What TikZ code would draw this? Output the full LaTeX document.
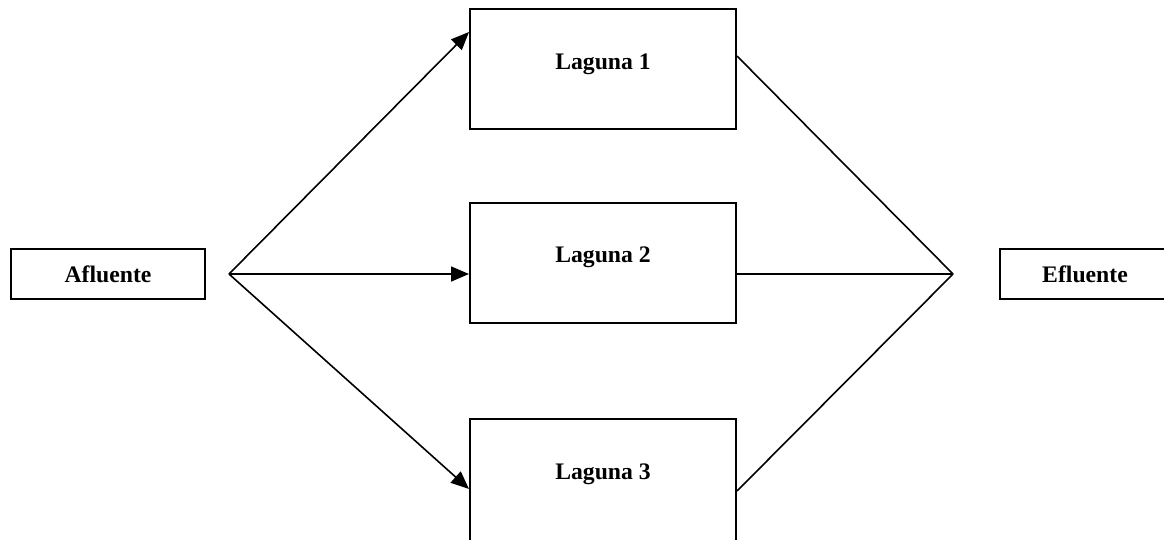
\documentclass[tikz,border=0pt]{standalone}
\usepackage{fontspec}
\setmainfont{Liberation Serif}
\usetikzlibrary{arrows.meta,calc}

\tikzset{
  basin/.style={draw, line width=2pt, rectangle, minimum width=266pt, minimum height=120pt, inner sep=0pt},
  endbox/.style={draw, line width=2pt, rectangle, minimum height=50pt, inner sep=0pt},
  lbl/.style={font=\fontsize{23.7}{28}\selectfont\bfseries, inner sep=0pt},
  flow/.style={line width=1.6pt},
  feed/.style={flow, -{Triangle[length=18pt,width=15pt]}}
}

\begin{document}
\begin{tikzpicture}[x=1pt,y=-1pt]
  \useasboundingbox (0,0) rectangle (1164,539);
  \clip (0,0) rectangle (1164,539);

  % inlet and outlet boxes
  \node[endbox, minimum width=194pt] (afl) at (108,274) {};
  \node[lbl] (aflt) at (afl.center) {Afluente};
  \node[endbox, minimum width=170pt] (efl) at (1085,274) {};
  \node[lbl] (eflt) at (efl.center) {Efluente};

  % the three ponds in parallel (the lowest runs off the page)
  \node[basin] (l1) at (603,69) {};
  \node[basin] (l2) at (603,262.5) {};
  \node[basin, minimum height=140pt] (l3) at (603,489) {};
  \node[lbl, anchor=base] (l1t) at ($(l1.north)+(0,61)$) {Laguna 1};
  \node[lbl, anchor=base] (l2t) at ($(l2.north)+(0,61)$) {Laguna 2};
  \node[lbl, anchor=base] (l3t) at ($(l3.north)+(0,61)$) {Laguna 3};

  % split and merge points
  \coordinate (split) at (229,274);
  \coordinate (merge) at (953,274);

  % distribution
  \draw[feed] (split) -- ($(l1.north west)+(0,24)$);
  \draw[feed] (split) -- (split -| l2.west);
  \draw[feed] (split) -- ($(l3.north west)+(0,71)$);

  % collection
  \draw[flow] ($(l1.north east)+(0,48)$) -- (merge);
  \draw[flow] (merge -| l2.east) -- (merge);
  \draw[flow] ($(l3.north east)+(0,73)$) -- (merge);
\end{tikzpicture}
\end{document}
